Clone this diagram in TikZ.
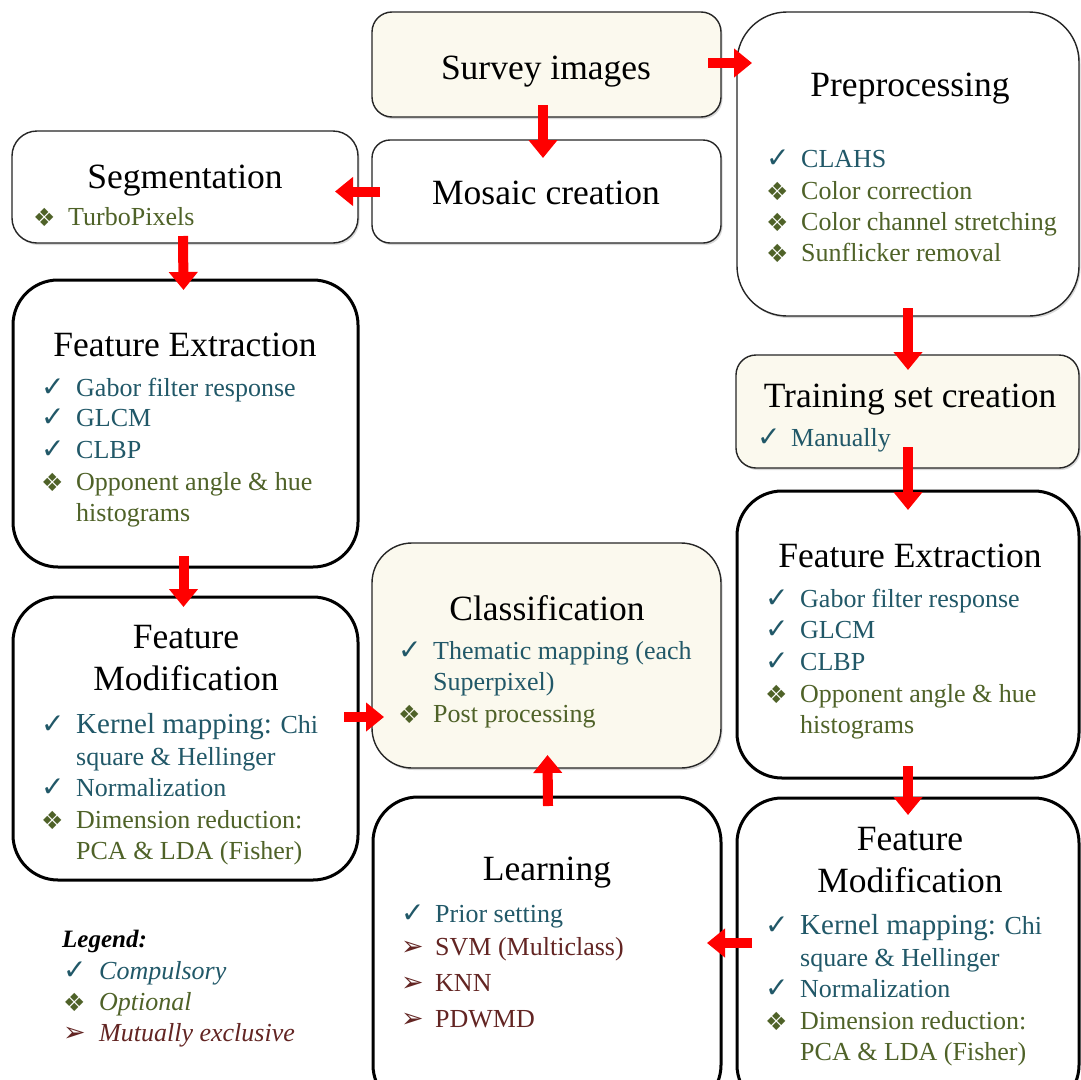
\documentclass[tikz,border=0pt]{standalone}
\usepackage{fontspec}
\setmainfont{Liberation Serif}
\newfontfamily\symf{DejaVu Sans}
\usetikzlibrary{arrows.meta,shadows}
\definecolor{cteal}{HTML}{215868}
\definecolor{colive}{HTML}{4F6228}
\definecolor{cmaroon}{HTML}{632523}
\definecolor{cream}{HTML}{FBF9EE}
\definecolor{ared}{HTML}{FF0000}
\newcommand\CK{\fontsize{28}{30}\selectfont ✓}
\newcommand\OP{\fontsize{25}{30}\selectfont\raisebox{-1pt}{❖}}
\newcommand\ME{\fontsize{27}{30}\selectfont ➢}
% name, colour, symbol, bullet x, text x, baseline y, text
\newcommand\itm[7]{%
  \node[bul,text=#2] (#1b) at (#4,#6) {#3};
  \node[item,text=#2] (#1) at (#5,#6) {#7};}
\newcommand\cnt[5]{% name, colour, text x, baseline y, text
  \node[item,text=#2] (#1) at (#3,#4) {#5};}
\begin{document}
\begin{tikzpicture}[x=1pt,y=-1pt,
  thinbox/.style={rectangle, draw=black!85, line width=1.4pt, fill=white, inner sep=0pt, outer sep=0pt,
     drop shadow={shadow xshift=1.5pt, shadow yshift=-2pt, opacity=0.3}},
  thickbox/.style={rectangle, draw=black, line width=3pt, fill=white, inner sep=0pt, outer sep=0pt},
  title/.style={font=\fontsize{35.5}{40}\selectfont, anchor=base, inner sep=0pt},
  item/.style={font=\fontsize{26}{30}\selectfont, anchor=base west, inner sep=0pt},
  bul/.style={font=\symf, anchor=base west, inner sep=0pt},
  redarr/.style={draw=ared, line width=10pt, -{Triangle[length=18pt,width=28pt]}}
]
\path[use as bounding box, fill=white] (0,0) rectangle (1081,1079);

% boxes
\node[thinbox, fill=cream, rounded corners=20pt, minimum width=349pt, minimum height=105pt] (survey) at (546.5,64.5) {};
\node[thinbox, rounded corners=18pt, minimum width=349pt, minimum height=103pt] (mosaic) at (546.5,191.5) {};
\node[thinbox, rounded corners=25pt, minimum width=346pt, minimum height=112pt] (seg) at (185,187) {};
\node[thinbox, rounded corners=50pt, minimum width=342pt, minimum height=304pt] (prep) at (908,164) {};
\node[thinbox, fill=cream, rounded corners=20pt, minimum width=343pt, minimum height=113pt] (train) at (907.5,411.5) {};
\node[thickbox, rounded corners=45pt, minimum width=345pt, minimum height=287pt] (feL) at (185.5,423.5) {};
\node[thickbox, rounded corners=45pt, minimum width=345pt, minimum height=283pt] (fmL) at (185.5,738.5) {};
\node[thinbox, fill=cream, rounded corners=40pt, minimum width=349pt, minimum height=225pt] (class) at (546.5,655.5) {};
\node[thickbox, rounded corners=45pt, minimum width=348pt, minimum height=313pt] (learn) at (547,953.5) {};
\node[thickbox, rounded corners=45pt, minimum width=342pt, minimum height=287pt] (feR) at (908,634.5) {};
\node[thickbox, rounded corners=45pt, minimum width=342pt, minimum height=312pt] (fmR) at (908,954) {};

% titles
\node[title] (surveyt) at (546,79) {Survey images};
\node[title] (mosaict) at (546,204) {Mosaic creation};
\node[title] (segt) at (185,188) {Segmentation};
\node[title] (prept) at (910,96) {Preprocessing};
\node[title] (traint) at (910,407) {Training set creation};
\node[title] (feLt) at (185,356) {Feature Extraction};
\node[title] (fmLt1) at (186,648) {Feature};
\node[title] (fmLt2) at (186,690) {Modification};
\node[title] (classt) at (547,620) {Classification};
\node[title] (feRt) at (910,567) {Feature Extraction};
\node[title] (fmRt1) at (910,850) {Feature};
\node[title] (fmRt2) at (910,892) {Modification};
\node[title] (learnt) at (547,880) {Learning};

% items
\itm{seg1}{colive}{\OP}{33}{68}{225}{TurboPixels}
\itm{prep1}{cteal}{\CK}{766}{801}{167}{CLAHS}
\itm{prep2}{colive}{\OP}{766}{801}{199}{Color correction}
\itm{prep3}{colive}{\OP}{766}{801}{230}{Color channel stretching}
\itm{prep4}{colive}{\OP}{766}{801}{261}{Sunflicker removal}
\itm{train1}{cteal}{\CK}{757}{791}{446}{Manually}

\itm{feL1}{cteal}{\CK}{41}{76}{396}{Gabor filter response}
\itm{feL2}{cteal}{\CK}{41}{76}{426}{GLCM}
\itm{feL3}{cteal}{\CK}{41}{76}{458}{CLBP}
\itm{feL4}{colive}{\OP}{41}{76}{490}{Opponent angle \& hue}
\cnt{feL5}{colive}{76}{521}{histograms}

\itm{fmL1}{cteal}{\CK}{41}{76}{733}{{\fontsize{29}{30}\selectfont Kernel mapping:} Chi}
\cnt{fmL2}{cteal}{76}{765}{square \& Hellinger}
\itm{fmL3}{cteal}{\CK}{41}{76}{796}{Normalization}
\itm{fmL4}{colive}{\OP}{41}{76}{828}{Dimension reduction:}
\cnt{fmL5}{colive}{76}{859}{PCA \& LDA (Fisher)}

\itm{class1}{cteal}{\CK}{398}{433}{659}{Thematic mapping (each}
\cnt{class2}{cteal}{433}{690}{Superpixel)}
\itm{class3}{colive}{\OP}{398}{433}{722}{Post processing}

\itm{feR1}{cteal}{\CK}{765}{800}{607}{Gabor filter response}
\itm{feR2}{cteal}{\CK}{765}{800}{638}{GLCM}
\itm{feR3}{cteal}{\CK}{765}{800}{670}{CLBP}
\itm{feR4}{colive}{\OP}{765}{800}{702}{Opponent angle \& hue}
\cnt{feR5}{colive}{800}{733}{histograms}

\itm{fmR1}{cteal}{\CK}{765}{800}{934}{{\fontsize{29}{30}\selectfont Kernel mapping:} Chi}
\cnt{fmR2}{cteal}{800}{966}{square \& Hellinger}
\itm{fmR3}{cteal}{\CK}{765}{800}{997}{Normalization}
\itm{fmR4}{colive}{\OP}{765}{800}{1029}{Dimension reduction:}
\cnt{fmR5}{colive}{800}{1060}{PCA \& LDA (Fisher)}

\itm{learn1}{cteal}{\CK}{401}{435}{922}{Prior setting}
\itm{learn2}{cmaroon}{\ME}{401}{435}{955}{SVM (Multiclass)}
\itm{learn3}{cmaroon}{\ME}{401}{435}{991}{KNN}
\itm{learn4}{cmaroon}{\ME}{401}{435}{1027}{PDWMD}

% legend
\node[item, font=\fontsize{25}{30}\selectfont\bfseries\itshape] (legt) at (62,947) {Legend:};
\itm{leg1}{cteal}{\CK}{63}{99}{979}{\itshape Compulsory}
\itm{leg2}{colive}{\OP}{63}{99}{1010}{\itshape Optional}
\itm{leg3}{cmaroon}{\ME}{63}{99}{1041}{\itshape Mutually exclusive}

% arrows
\draw[redarr] ([xshift=-13pt,yshift=1.5pt]survey.east) -- ([xshift=15pt,yshift=1.5pt]survey.east -| prep.west);
\draw[redarr] ([xshift=-3.5pt,yshift=12pt]survey.south) -- ([xshift=-3.5pt,yshift=-18pt]mosaic.north);
\draw[redarr] ([xshift=8pt]mosaic.west) -- ([xshift=-23pt]mosaic.west -| seg.east);
\draw[redarr] ([xshift=-2pt,yshift=7pt]seg.south) -- ([xshift=-2pt,yshift=-10pt]feL.north);
\draw[redarr] ([xshift=-2pt,yshift=11pt]feL.south) -- ([xshift=-2pt,yshift=-10pt]fmL.north);
\draw[redarr] ([xshift=-14pt,yshift=21.5pt]fmL.east) -- ([xshift=12pt,yshift=21.5pt]fmL.east -| class.west);
\draw[redarr] ([yshift=8pt]prep.south) -- ([yshift=-15pt]train.north -| prep.south);
\draw[redarr] ([yshift=21pt]train.south -| prep.south) -- ([yshift=-19pt]feR.north);
\draw[redarr] ([yshift=12pt]feR.south) -- ([yshift=-17pt]fmR.north);
\draw[redarr] ([xshift=15pt,yshift=11pt]fmR.west) -- ([xshift=-14pt,yshift=11pt]fmR.west -| learn.east);
\draw[redarr] ([xshift=1pt,yshift=-9pt]learn.north) -- ([xshift=1pt,yshift=13pt]class.south);
\end{tikzpicture}
\end{document}
